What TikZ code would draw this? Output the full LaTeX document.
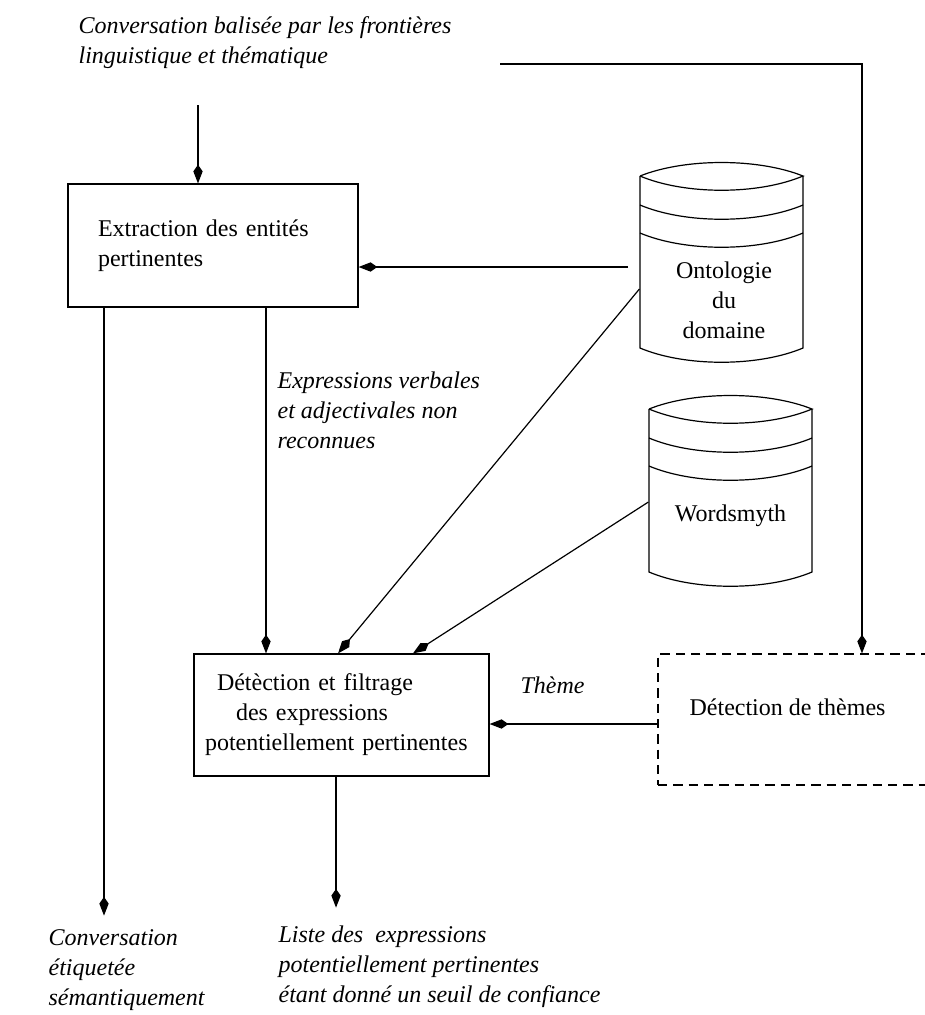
\documentclass[tikz,border=0pt]{standalone}
\usepackage{fontspec}
\setmainfont{Liberation Serif}
\usetikzlibrary{arrows.meta}

\tikzset{every picture/.style={line width=0.9pt}}
\tikzset{
  arr/.style={-{Kite[length=14pt,width=7pt,inset=5pt]}},
  procbox/.style={draw, rectangle, inner ysep=0pt, align=left},
  lbl/.style={font=\fontsize{18}{22.5}\selectfont\itshape, align=left, inner sep=0pt, anchor=north west},
}

% drum shaped store: left x, top corner y, wall height
\newcommand{\drawdb}[3]{%
  \draw (#1,#2) .. controls (#1+45,#2-18) and (#1+118,#2-18) .. (#1+163,#2)
        .. controls (#1+118,#2+19) and (#1+45,#2+19) .. (#1,#2);
  \draw (#1,#2) -- (#1,#2+#3) .. controls (#1+45,#2+#3+19) and (#1+118,#2+#3+19) .. (#1+163,#2+#3) -- (#1+163,#2);
  \draw (#1,#2+29) .. controls (#1+45,#2+48) and (#1+118,#2+48) .. (#1+163,#2+29);
  \draw (#1,#2+57) .. controls (#1+45,#2+76) and (#1+118,#2+76) .. (#1+163,#2+57);
}

\begin{document}
\begin{tikzpicture}[x=0.75pt,y=0.75pt,yscale=-1,xscale=1,
  every node/.style={font=\fontsize{18}{22.5}\selectfont}]
\useasboundingbox (0,0) rectangle (925,1015);
\clip (0,0) rectangle (925,1015);

% Stores
\drawdb{640}{176}{172}
\drawdb{649}{409}{163}
\node [inner sep=0pt, minimum width=126pt, align=center] (ontoDb) at (724,300) {Ontologie\\du\\domaine};
\node [inner sep=0pt, minimum width=122.25pt] (wsmDb) at (730.5,516) {Wordsmyth};

% Process boxes
\node [procbox, text width=172.5pt, inner xsep=22.5pt, minimum height=92.25pt] (extr) at (213,245.5)
  {Extraction des entités\\pertinentes};
\node [procbox, text width=204.75pt, inner xsep=8.25pt, minimum height=91.5pt] (detect) at (341.5,715)
  {\hspace*{9pt}Détèction et filtrage\\\hspace*{23.25pt}des expressions\\potentiellement pertinentes};
\node [draw, dash pattern=on 7pt off 4.5pt, minimum width=306pt, minimum height=98.25pt] (theme) at (862,719.5) {};
\node [anchor=base west, inner sep=0pt] (themeTxt) at (689,715) {Détection de thèmes};

% Text Node
\node [lbl] (inLbl) at (78,15.5) {Conversation balisée par les frontières\\linguistique et thématique};
\node [lbl] (exprLbl) at (277,371.5) {Expressions verbales\\et adjectivales non\\reconnues};
\node [lbl, anchor=base west] (themeLbl) at (520,693) {Thème};
\node [lbl] (convLbl) at (48,928.5) {Conversation\\étiquetée\\sémantiquement};
\node [lbl] (listeLbl) at (278,925.5) {Liste des \ expressions\\potentiellement pertinentes\\étant donné un seuil de confiance};

\coordinate (inTop) at (198,105);
\coordinate (ontoIn) at (628,267);
\coordinate (topStart) at (500,64);

% Connectors
\draw [arr] (inTop) -- (inTop |- extr.north);
\draw [arr] (ontoIn) -- (ontoIn -| extr.east);
\draw [arr] ([xshift=39.75pt]extr.south) -- ([xshift=39.75pt]extr.south |- detect.north);
\draw [arr] (ontoDb.west |- 0,289) -- ([xshift=-2.6pt]detect.north);
\draw [arr] (wsmDb.west |- 0,502) -- ([xshift=53.6pt]detect.north);
\draw [arr] (theme.west |- 0,724) -- (detect.east |- 0,724);
\draw [arr] (topStart) -| (theme.north);
\draw [arr] ([xshift=-81.75pt]extr.south) -- ++(0,608);
\draw [arr] ([xshift=-4.1pt]detect.south) -- ++(0,131);

\end{tikzpicture}
\end{document}
